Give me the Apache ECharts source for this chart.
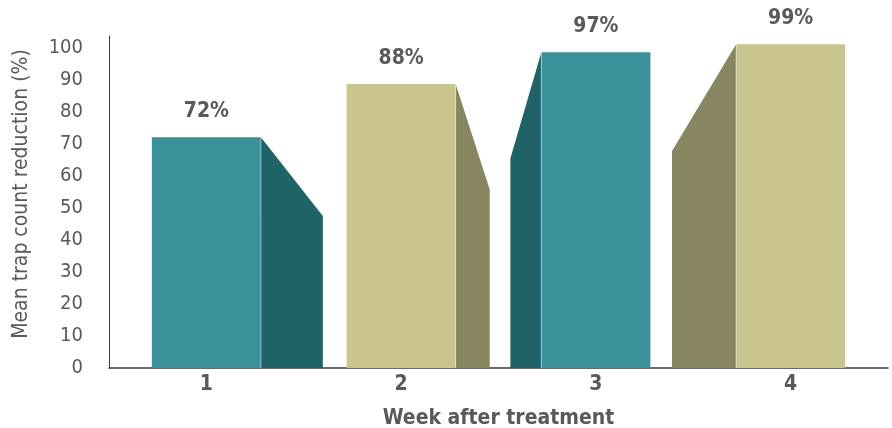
<!DOCTYPE html>
<html>
<head>
<meta charset="utf-8">
<script src="https://cdn.jsdelivr.net/npm/echarts@6/dist/echarts.min.js"></script>
<style>
  html, body { margin: 0; padding: 0; background: #fff; }
  #chart { width: 892px; height: 428px; }
</style>
</head>
<body>
<div id="chart"></div>
<script>
// 数据 | data
const weeks = ["1", "2", "3", "4"];
const reductionLabels = [72, 88, 97, 99];
// heights of the front faces as drawn
const frontHeights = [72, 88.6, 98.5, 101];
// heights of the outer edge of the slanted side faces
const sideHeights = [47.4, 55.7, 65.4, 67.7];
const yTicks = [0, 10, 20, 30, 40, 50, 60, 70, 80, 90, 100];

const textColor = "#58595b";
const fontFamily = "'Liberation Sans Narrow', 'DejaVu Sans Condensed', 'Roboto', sans-serif";
// 外观：正面颜色、侧面颜色、侧面宽度（占类目宽度比例，负数在左边）
const frontColors = ["#3a9199", "#c9c58d", "#3a9199", "#c9c58d"];
const sideColors = ["#1f6268", "#878661", "#1f6268", "#878661"];
const sideFrac = [0.318, 0.175, -0.159, -0.329];
const frontFrac = 0.56;

const chart = echarts.init(document.getElementById("chart"));

function renderBar(params, api) {
  const i = api.value(0);
  const base = api.coord([i, 0]);
  const top = api.coord([i, api.value(1)]);
  const sideTop = api.coord([i, api.value(2)]);
  const band = api.size([1, 0])[0];
  const w = band * frontFrac;
  const x0 = base[0] - w / 2;
  const x1 = base[0] + w / 2;
  const sw = band * sideFrac[i];
  const edge = sw > 0 ? x1 : x0;
  const outer = edge + sw;
  return {
    type: "group",
    children: [
      {
        type: "polygon",
        shape: { points: [[edge, base[1]], [edge, top[1]], [outer, sideTop[1]], [outer, base[1]]] },
        style: { fill: sideColors[i] }
      },
      {
        type: "rect",
        shape: { x: x0, y: top[1], width: w, height: base[1] - top[1] },
        style: { fill: frontColors[i] }
      },
      {
        type: "line",
        shape: { x1: edge, y1: top[1], x2: edge, y2: base[1] },
        style: { stroke: "rgba(255,255,255,0.45)", lineWidth: 1 }
      },
      {
        type: "text",
        style: {
          x: base[0],
          y: top[1] - 26,
          text: reductionLabels[i] + "%",
          fill: textColor,
          font: "bold 21px " + fontFamily,
          align: "center",
          verticalAlign: "middle"
        }
      }
    ]
  };
}

chart.setOption({
  animation: false,
  grid: { left: 109, right: 4, top: 36, bottom: 60, containLabel: false, outerBoundsMode: "none" },
  xAxis: {
    type: "category",
    data: weeks,
    boundaryGap: true,
    axisLine: { lineStyle: { color: "#3a3a3a", width: 1.5 } },
    axisTick: { show: false },
    axisLabel: { color: textColor, fontSize: 21, fontWeight: "bold", fontFamily, margin: 6 },
    name: "Week after treatment",
    nameLocation: "middle",
    nameGap: 40,
    nameTextStyle: { color: textColor, fontSize: 21, fontWeight: "bold", fontFamily }
  },
  yAxis: {
    type: "value",
    min: 0,
    max: 103.6,
    interval: 10,
    splitLine: { show: false },
    axisLine: { show: true, lineStyle: { color: "#3a3a3a", width: 1 } },
    axisTick: { show: false },
    axisLabel: {
      color: textColor,
      fontSize: 20,
      fontFamily,
      margin: 26,
      showMaxLabel: false,
      formatter: (v) => (yTicks.includes(v) ? String(v) : "")
    }
  },
  graphic: [
    {
      type: "text",
      x: 22,
      y: 194,
      rotation: Math.PI / 2,
      style: {
        text: "Mean trap count reduction (%)",
        fill: textColor,
        font: "21px " + fontFamily,
        align: "center",
        verticalAlign: "middle"
      }
    }
  ],
  series: [
    {
      type: "custom",
      renderItem: renderBar,
      encode: { x: 0, y: 1 },
      data: weeks.map((w, i) => [i, frontHeights[i], sideHeights[i]])
    }
  ]
});

window.addEventListener("resize", () => chart.resize());
</script>
</body>
</html>
